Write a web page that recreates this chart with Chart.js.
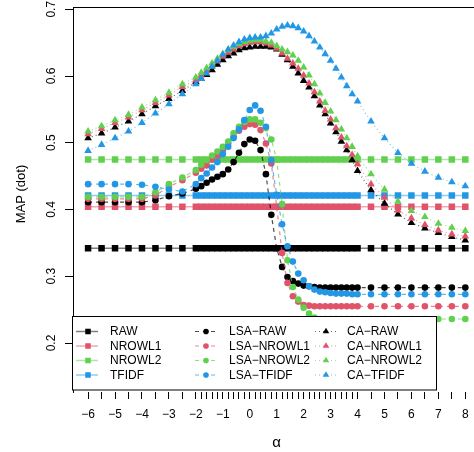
<!DOCTYPE html>
<html>
<head>
<meta charset="utf-8">
<script src="https://cdn.jsdelivr.net/npm/chart.js@4.4.0/dist/chart.umd.min.js"></script>
<style>
  html, body { margin: 0; padding: 0; background: #fff; overflow: hidden; }
  canvas { display: block; }
</style>
</head>
<body>
<canvas id="chart" width="485" height="452"></canvas>
<script>
// alpha values (x axis), one MAP value per alpha for each method
const alphas = [-6,-5.5,-5,-4.5,-4,-3.5,-3,-2.5,-2,
  -1.8,-1.6,-1.4,-1.2,-1,-0.8,-0.6,-0.4,-0.2,0,
  0.2,0.4,0.6,0.8,1,1.2,1.4,1.6,1.8,2,
  2.2,2.4,2.6,2.8,3,3.2,3.4,3.6,3.8,4,
  4.5,5,5.5,6,6.5,7,7.5,8];

// baselines do not depend on alpha: one value each
const baseNames = ["RAW", "NROWL1", "NROWL2", "TFIDF"];
const baseValues = [0.342, 0.404, 0.475, 0.421];

const lsaRaw = [0.411,0.411,0.411,0.411,0.411,0.414,0.420,0.424,0.431,
  0.435,0.440,0.445,0.449,0.453,0.460,0.471,0.485,0.498,0.505,
  0.503,0.489,0.453,0.392,0.342,0.314,0.299,0.293,0.289,0.286,
  0.285,0.284,0.283,0.283,0.283,0.283,0.283,0.283,0.283,0.283,
  0.283,0.283,0.283,0.283,0.283,0.283,0.283,0.283];
const lsaNrowl1 = [0.416,0.416,0.416,0.416,0.416,0.421,0.434,0.444,0.455,
  0.461,0.466,0.475,0.481,0.489,0.499,0.509,0.518,0.524,0.528,
  0.527,0.519,0.499,0.469,0.404,0.335,0.290,0.270,0.262,0.257,
  0.256,0.255,0.255,0.255,0.255,0.255,0.255,0.255,0.255,0.255,
  0.255,0.255,0.255,0.255,0.255,0.255,0.255,0.255];
const lsaNrowl2 = [0.419,0.419,0.419,0.419,0.419,0.426,0.438,0.448,0.459,
  0.467,0.474,0.481,0.487,0.494,0.502,0.514,0.524,0.531,0.535,
  0.535,0.530,0.522,0.505,0.475,0.408,0.324,0.284,0.265,0.253,
  0.244,0.238,0.236,0.236,0.236,0.236,0.236,0.236,0.236,0.236,
  0.236,0.236,0.236,0.236,0.236,0.236,0.236,0.236];
const lsaTfidf = [0.438,0.438,0.438,0.438,0.437,0.434,0.430,0.427,0.438,
  0.447,0.454,0.463,0.471,0.483,0.494,0.507,0.520,0.534,0.549,
  0.556,0.548,0.524,0.474,0.422,0.378,0.345,0.322,0.304,0.294,
  0.285,0.280,0.277,0.276,0.275,0.274,0.274,0.274,0.273,0.273,
  0.273,0.273,0.273,0.273,0.273,0.273,0.273,0.273];

const caRaw = [0.507,0.514,0.523,0.532,0.543,0.555,0.566,0.578,0.591,
  0.596,0.602,0.609,0.617,0.624,0.630,0.634,0.639,0.642,0.643,
  0.644,0.644,0.644,0.643,0.640,0.632,0.624,0.614,0.604,0.593,
  0.583,0.570,0.556,0.543,0.529,0.516,0.502,0.489,0.474,0.458,
  0.429,0.409,0.393,0.380,0.372,0.365,0.359,0.354];
const caNrowl1 = [0.513,0.521,0.530,0.538,0.549,0.560,0.571,0.584,0.594,
  0.601,0.608,0.615,0.622,0.629,0.635,0.640,0.645,0.648,0.650,
  0.651,0.651,0.649,0.646,0.641,0.634,0.626,0.619,0.611,0.601,
  0.589,0.576,0.562,0.548,0.535,0.522,0.508,0.495,0.482,0.468,
  0.438,0.418,0.399,0.387,0.377,0.369,0.363,0.360];
const caNrowl2 = [0.517,0.525,0.534,0.542,0.553,0.564,0.575,0.588,0.598,
  0.605,0.612,0.619,0.626,0.633,0.639,0.644,0.648,0.651,0.653,
  0.654,0.654,0.652,0.650,0.645,0.640,0.636,0.631,0.623,0.613,
  0.601,0.588,0.574,0.560,0.547,0.534,0.520,0.507,0.494,0.480,
  0.453,0.430,0.412,0.398,0.389,0.379,0.373,0.368];
const caTfidf = [0.488,0.497,0.507,0.517,0.530,0.544,0.558,0.573,0.588,
  0.596,0.604,0.614,0.623,0.632,0.640,0.646,0.651,0.655,0.657,
  0.658,0.658,0.660,0.664,0.670,0.674,0.676,0.675,0.672,0.667,
  0.660,0.652,0.643,0.633,0.623,0.611,0.598,0.585,0.573,0.562,
  0.532,0.507,0.485,0.469,0.457,0.448,0.441,0.435];

const xLabelTicks = [-6,-5,-4,-3,-2,-1,0,1,2,3,4,5,6,7,8];
const yTicks = [0.2, 0.3, 0.4, 0.5, 0.6, 0.7];

const colors = ["#000000", "#DF536B", "#61D04F", "#2297E6"];
const FONT = "'Liberation Sans', Arial, Helvetica, sans-serif";

function fade(hex, a) {
  const n = parseInt(hex.slice(1), 16);
  return `rgba(${n >> 16},${(n >> 8) & 255},${n & 255},${a})`;
}

const styles = {
  base: { dash: [], shape: "rect", radius: 4.6, lw: 1.5, alpha: 0.5 },
  lsa:  { dash: [4, 4], shape: "circle", radius: 3.3, lw: 1.2, alpha: 0.7 },
  ca:   { dash: [1, 3], shape: "triangle", radius: 4.4, lw: 1.2, alpha: 0.6 }
};

let drawIdx = 0;
function makeSet(label, values, color, kind) {
  const st = styles[kind];
  drawIdx++;
  return {
    label,
    data: values.map((v, i) => ({ x: alphas[i], y: v })),
    borderColor: fade(color, st.alpha),
    borderWidth: st.lw,
    borderDash: st.dash,
    pointStyle: st.shape,
    pointRadius: st.radius,
    pointBackgroundColor: color,
    pointBorderWidth: 0,
    tension: 0,
    order: 100 - drawIdx   // later sets are drawn on top
  };
}

const datasets = [];
baseNames.forEach((n, k) => datasets.push(makeSet(n, alphas.map(() => baseValues[k]), colors[k], "base")));
const lsaSets = [lsaRaw, lsaNrowl1, lsaNrowl2, lsaTfidf];
const caSets = [caRaw, caNrowl1, caNrowl2, caTfidf];
baseNames.forEach((n, k) => datasets.push(makeSet("LSA\u2212" + n, lsaSets[k], colors[k], "lsa")));
baseNames.forEach((n, k) => datasets.push(makeSet("CA\u2212" + n, caSets[k], colors[k], "ca")));

// ---------- extra drawing: rotated y labels, titles, boxed legend ----------
function marker(ctx, shape, x, y, r, color) {
  ctx.fillStyle = color;
  ctx.beginPath();
  if (shape === "rect") {
    const s = Math.SQRT1_2 * r;
    ctx.rect(x - s, y - s, 2 * s, 2 * s);
  } else if (shape === "circle") {
    ctx.arc(x, y, r, 0, Math.PI * 2);
  } else {
    ctx.moveTo(x, y - r);
    ctx.lineTo(x + r * 0.866, y + r * 0.5);
    ctx.lineTo(x - r * 0.866, y + r * 0.5);
    ctx.closePath();
  }
  ctx.fill();
}

const extras = {
  id: "extras",
  afterDraw(chart) {
    const ctx = chart.ctx;
    const ys = chart.scales.y;
    const area = chart.chartArea;
    ctx.save();
    ctx.fillStyle = "#000";

    // y tick labels, rotated like base R
    ctx.font = "12px " + FONT;
    ctx.textAlign = "center";
    ctx.textBaseline = "alphabetic";
    yTicks.forEach(v => {
      ctx.save();
      ctx.translate(55, ys.getPixelForValue(v));
      ctx.rotate(-Math.PI / 2);
      ctx.fillText(v.toFixed(1), 0, 0);
      ctx.restore();
    });

    // axis titles
    ctx.save();
    ctx.font = "13px " + FONT;
    ctx.translate(25, 194);
    ctx.rotate(-Math.PI / 2);
    ctx.fillText("MAP (dot)", 0, 0);
    ctx.restore();
    ctx.font = "15px " + FONT;
    ctx.fillText("\u03b1", (area.left + area.right) / 2, 446.5);

    // top frame line
    ctx.strokeStyle = "#000";
    ctx.lineWidth = 1;
    ctx.beginPath();
    ctx.moveTo(area.left, 7.5);
    ctx.lineTo(area.right, 7.5);
    ctx.stroke();

    // legend box
    ctx.fillStyle = "#fff";
    ctx.fillRect(73, 316.5, 363.5, 73.5);
    ctx.strokeRect(72.5, 316.5, 364, 73.5);

    const cols = [
      { kind: "base", x0: 76, x1: 98, mx: 88, tx: 110, pre: "" },
      { kind: "lsa", x0: 195, x1: 217, mx: 206, tx: 229, pre: "LSA\u2212" },
      { kind: "ca", x0: 315, x1: 337, mx: 326, tx: 347, pre: "CA\u2212" }
    ];
    const rows = [331.5, 346, 360.5, 375];
    ctx.font = "12px " + FONT;
    ctx.textAlign = "left";
    ctx.textBaseline = "middle";
    cols.forEach(c => {
      const st = styles[c.kind];
      baseNames.forEach((n, k) => {
        const y = rows[k];
        ctx.strokeStyle = fade(colors[k], st.alpha);
        ctx.lineWidth = st.lw;
        ctx.setLineDash(st.dash);
        ctx.beginPath();
        ctx.moveTo(c.x0, y);
        ctx.lineTo(c.x1, y);
        ctx.stroke();
        ctx.setLineDash([]);
        marker(ctx, st.shape, c.mx, y, st.radius * 0.85, colors[k]);
        ctx.fillStyle = "#000";
        ctx.fillText(c.pre + n, c.tx, y + 0.5);
      });
    });
    ctx.restore();
  }
};

new Chart(document.getElementById("chart"), {
  type: "line",
  data: { datasets },
  plugins: [extras],
  options: {
    responsive: false,
    animation: false,
    devicePixelRatio: 1,
    layout: { padding: { top: 7, right: 0, bottom: 0, left: 0 } },
    plugins: { legend: { display: false }, tooltip: { enabled: false } },
    scales: {
      x: {
        type: "linear",
        min: -6.56,
        max: 8.56,
        afterBuildTicks: s => { s.ticks = alphas.map(v => ({ value: v })); },
        afterFit: s => { s.height = 60; },
        border: { display: false },
        grid: { drawOnChartArea: false, drawTicks: true, tickLength: 7, color: "#000", lineWidth: 1 },
        ticks: {
          autoSkip: false,
          maxRotation: 0,
          minRotation: 0,
          padding: 8,
          color: "#000",
          font: { size: 12, family: FONT },
          callback: v => xLabelTicks.includes(v) ? String(v).replace("-", "\u2212") : ""
        }
      },
      y: {
        type: "linear",
        min: 0.1266,
        max: 0.7034,
        afterBuildTicks: s => { s.ticks = yTicks.map(v => ({ value: v })); },
        afterFit: s => { s.width = 73; },
        border: { display: true, color: "#000", width: 1 },
        grid: { drawOnChartArea: false, drawTicks: true, tickLength: 8, color: "#000", lineWidth: 1 },
        ticks: { display: false }
      }
    }
  }
});
</script>
</body>
</html>
